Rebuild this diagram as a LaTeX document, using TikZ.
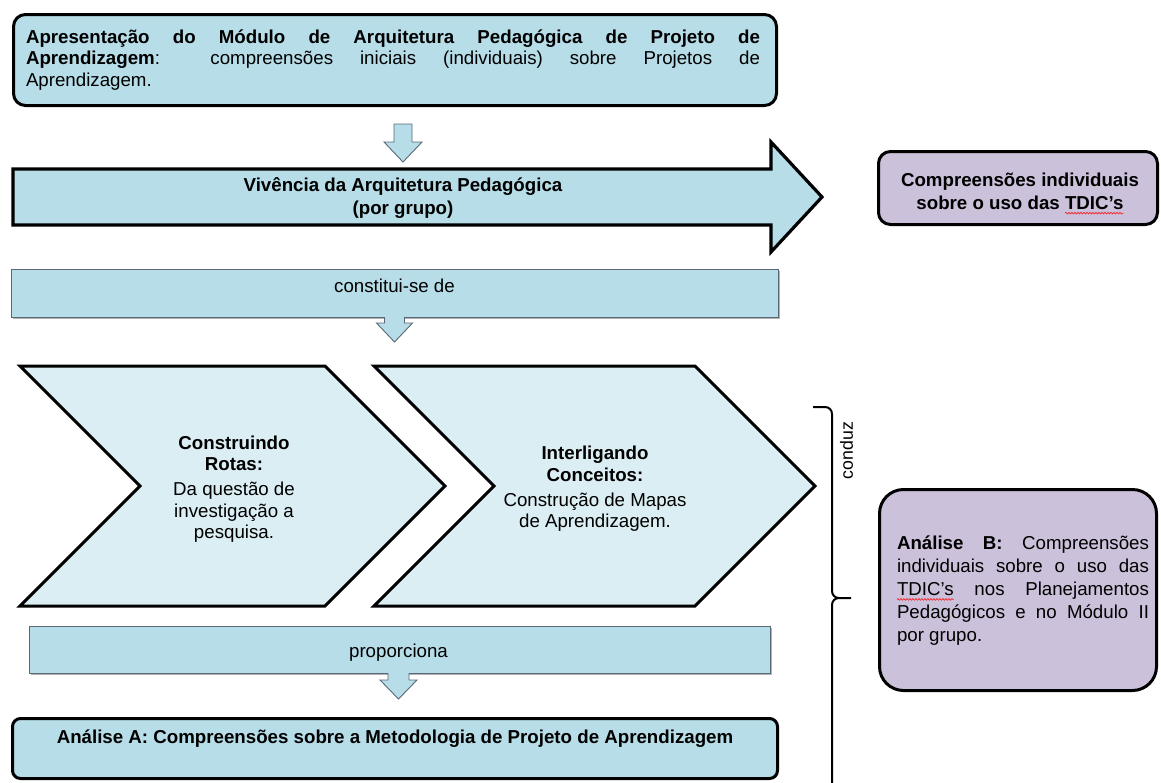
\documentclass[tikz,border=0pt]{standalone}
\usepackage{fontspec}
\setmainfont{Liberation Sans}
\usetikzlibrary{shadows,decorations.pathmorphing}

\definecolor{boxblue}{RGB}{183,221,232}
\definecolor{chevblue}{RGB}{219,238,243}
\definecolor{lilac}{RGB}{204,193,218}
\definecolor{edgegray}{RGB}{88,104,118}

% red wavy underline under a word
\newlength\wavelen
\newcommand\spellwave[1]{\settowidth\wavelen{#1}\leavevmode\rlap{#1}%
  \tikz[baseline=0pt,x=1pt,y=1pt]{\useasboundingbox (0,0) rectangle (\wavelen,0);
    \draw[red, line width=0.5pt, decorate, decoration={snake, amplitude=0.9pt, segment length=3pt}]
      (0,-3.5) -- (\wavelen,-3.5);}}
\newcommand\fs[1]{\fontsize{18.7pt}{#1}\selectfont}

\begin{document}
\begin{tikzpicture}[x=1pt,y=-1pt,
  bluebox/.style={draw=black, line width=3pt, fill=boxblue, inner sep=0pt},
  lilacbox/.style={draw=black, line width=3pt, fill=lilac, inner sep=0pt},
  bandbox/.style={draw=edgegray, line width=0.8pt, fill=boxblue, inner sep=0pt,
    drop shadow={shadow xshift=2pt, shadow yshift=-2pt, opacity=0.3, fill=black}},
  lbl/.style={inner sep=0pt, font=\fs{21.5pt}},
  blockfill/.style={fill=boxblue},
  blockedge/.style={draw=edgegray, line width=0.9pt, line join=miter},
  chevron/.style={draw=black, line width=3pt, fill=chevblue, line join=miter},
  bracket/.style={draw=black, line width=2pt}
]
\useasboundingbox (0,0) rectangle (1161,782);

% --- presentation of the module
\node[bluebox, rounded corners=12pt, minimum width=763pt, minimum height=91pt] (intro) at (395,60) {};
\node[lbl, text width=734pt, align=justify] (introtext) at (393,60)
  {\textbf{Apresentação do Módulo de Arquitetura Pedagógica de Projeto de}\linebreak
   \textbf{Aprendizagem}: compreensões iniciais (individuais) sobre Projetos de\linebreak
   Aprendizagem.};

% small down arrow
\draw[blockfill, blockedge] (394,124) -- (412,124) -- (412,142) -- (422,142) -- (403,162)
  -- (384,142) -- (394,142) -- cycle;

% --- big arrow: experience of the architecture
\draw[line width=3.2pt, fill=boxblue, line join=miter]
  (13,169) -- (771,169) -- (771,142) -- (822,197) -- (771,252) -- (771,225) -- (13,225) -- cycle;
\node[lbl, font=\fs{23pt}\bfseries, align=center] (vivencia) at (403,198)
  {Vivência da Arquitetura Pedagógica\\(por grupo)};

% individual understandings box
\node[lilacbox, rounded corners=12pt, minimum width=279pt, minimum height=73pt] (tdicA) at (1018,188) {};
\node[lbl, font=\fs{23pt}\bfseries, align=center] (tdicAtext) at (1020,191.5)
  {Compreensões individuais\\sobre o uso das \spellwave{TDIC’s}};

% --- band "constitui-se de"
\node[bandbox, minimum width=767pt, minimum height=48pt] (constitui) at (394.5,293) {};
\node[lbl, anchor=base] (constituitext) at (394.5,292) {constitui-se de};
\path[blockfill] (384.5,316) -- (404.5,316) -- (404.5,323) -- (412.5,323) -- (394.5,342)
  -- (376.5,323) -- (384.5,323) -- cycle;
\draw[blockedge] (384.5,317) -- (384.5,323) -- (376.5,323) -- (394.5,342) -- (412.5,323)
  -- (404.5,323) -- (404.5,317);

% --- chevrons
\draw[chevron] (20,366) -- (325,366) -- (445,486) -- (325,606) -- (20,606) -- (140,486) -- cycle;
\draw[chevron] (374,366) -- (695,366) -- (815,486) -- (695,606) -- (374,606) -- (494,486) -- cycle;
\node[lbl, align=center] (rotas) at (234,489)
  {\textbf{Construindo}\\\textbf{Rotas:}\\[3.5pt]Da questão de\\investigação a\\pesquisa.};
\node[lbl, align=center] (conceitos) at (595,489)
  {\textbf{Interligando}\\\textbf{Conceitos:}\\[3.5pt]Construção de Mapas\\de Aprendizagem.};

% --- band "proporciona"
\node[bandbox, minimum width=741pt, minimum height=47pt] (proporciona) at (399.5,649.5) {};
\node[lbl, anchor=base] (proporcionatext) at (398.5,657) {proporciona};
\path[blockfill] (388,672) -- (409,672) -- (409,680) -- (417,680) -- (398.5,699)
  -- (380,680) -- (388,680) -- cycle;
\draw[blockedge] (388,673) -- (388,680) -- (380,680) -- (398.5,699) -- (417,680)
  -- (409,680) -- (409,673);

% --- analysis A
\node[bluebox, rounded corners=8pt, minimum width=765pt, minimum height=60pt] (analiseA) at (395,748.5) {};
\node[lbl, anchor=base, font=\fs{21.5pt}\bfseries] (analiseAtext) at (395,743)
  {Análise A: Compreensões sobre a Metodologia de Projeto de Aprendizagem};

% --- bracket "conduz"
\draw[bracket] (813,407) -- (825,407) .. controls (829,407) and (832,410) .. (832,414)
  -- (832,591) .. controls (832,595) and (835,598) .. (839,598) -- (851,598);
\draw[bracket] (839,598) .. controls (835,598) and (832,601) .. (832,605) -- (832,790);
\node[lbl, rotate=90, font=\fontsize{17.7pt}{20pt}\selectfont] (conduz) at (846.5,450.5) {conduz};

% --- analysis B
\node[lilacbox, rounded corners=24pt, minimum width=277pt, minimum height=201pt] (analiseB) at (1018,590) {};
\node[lbl, text width=252pt, align=justify, font=\fs{23pt}] (analiseBtext) at (1023,591)
  {\textbf{Análise B:} Compreensões\linebreak
   individuais sobre o uso das\linebreak
   \spellwave{TDIC’s} nos Planejamentos\linebreak
   Pedagógicos e no Módulo II\linebreak
   por grupo.};
\end{tikzpicture}
\end{document}
